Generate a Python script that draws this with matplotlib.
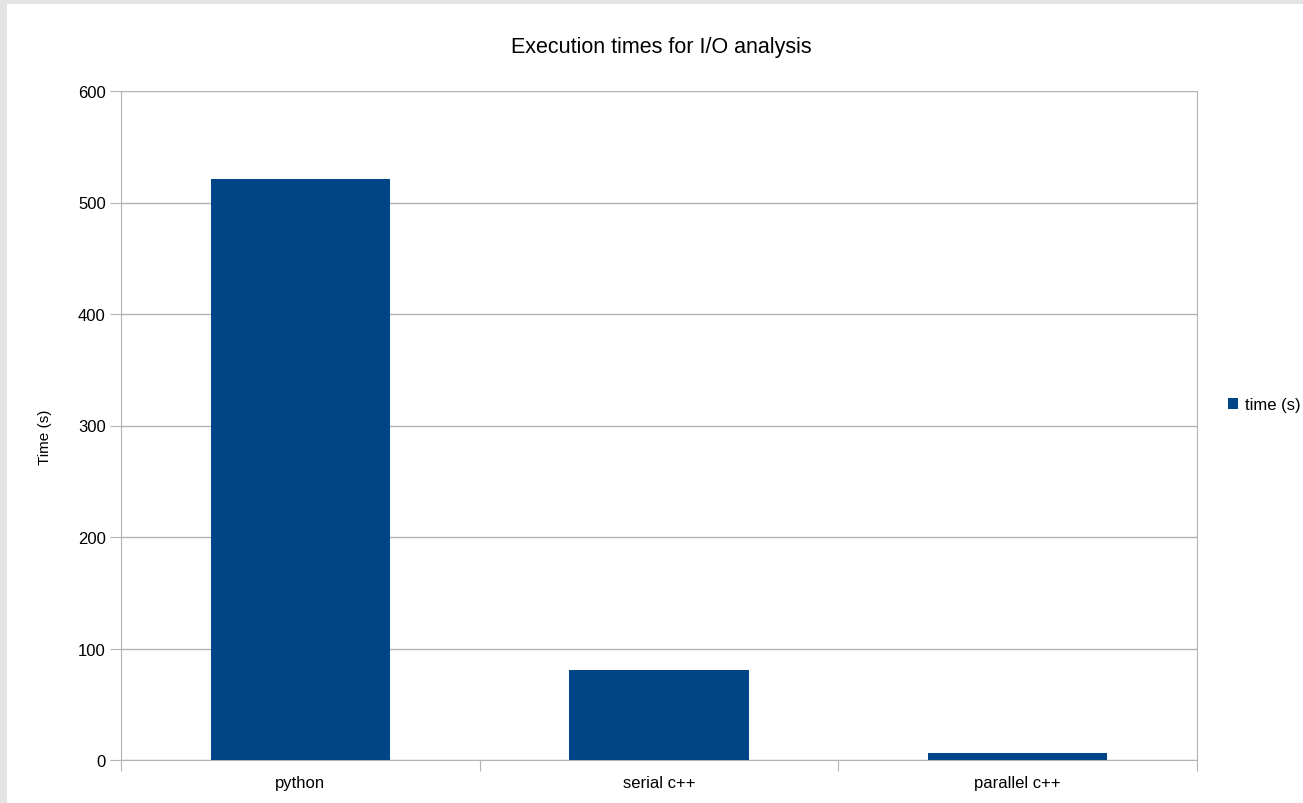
import matplotlib
matplotlib.use('Agg')
import matplotlib.pyplot as plt
from matplotlib.patches import Rectangle

# Data
categories = ['python', 'serial c++', 'parallel c++']
times = [521, 81, 6.5]

plt.rcParams['font.family'] = ['Liberation Sans', 'DejaVu Sans']

fig = plt.figure(figsize=(13.03, 8.04), dpi=100)
fig.patch.set_facecolor('#e4e4e4')
# white page with a thin gray border on the left and top
fig.patches.append(Rectangle((7 / 1303, 0), 1, 1 - 5 / 804, transform=fig.transFigure,
                             facecolor='white', edgecolor='none', zorder=-10))

ax = fig.add_axes([121 / 1303, 1 - 761 / 804, 1076 / 1303, 669 / 804])
ax.set_facecolor('none')

x = range(len(categories))
bars = ax.bar(x, times, width=0.5, color='#004586', label='time (s)', zorder=3)

ax.set_xlim(-0.5, len(categories) - 0.5)
ax.set_ylim(0, 600)
ax.set_yticks(range(0, 601, 100))
ax.yaxis.grid(True, color='#b3b3b3', linewidth=1)
ax.set_axisbelow(True)

# category boundary ticks on x axis, labels centred under bars
ax.set_xticks([i - 0.5 for i in range(len(categories) + 1)])
ax.set_xticklabels([])
ax.set_xticks(list(x), minor=True)
ax.set_xticklabels(categories, minor=True)
ax.tick_params(axis='x', which='minor', length=0, pad=11, labelsize=12)
ax.tick_params(axis='x', which='major', length=8, color='#b3b3b3')
ax.tick_params(axis='y', length=8, color='#b3b3b3', labelsize=12, pad=3)

for side in ['top']:
    ax.spines[side].set_visible(False)
for side in ['left', 'right', 'bottom']:
    ax.spines[side].set_color('#b3b3b3')

ax.set_ylabel('Time (s)', fontsize=11)
ax.yaxis.set_label_coords(-0.064, 0.484)
fig.text(661 / 1303, 1 - 47 / 804, 'Execution times for I/O analysis', fontsize=15.5,
         ha='center', va='center')

fig.legend(handles=[bars], loc='center left', bbox_to_anchor=(1228 / 1303, 1 - 406 / 804),
           frameon=False, fontsize=12, handlelength=0.6, handleheight=0.6,
           handletextpad=0.4, borderpad=0, borderaxespad=0)

fig.savefig('out.png', dpi=100, facecolor=fig.get_facecolor())
